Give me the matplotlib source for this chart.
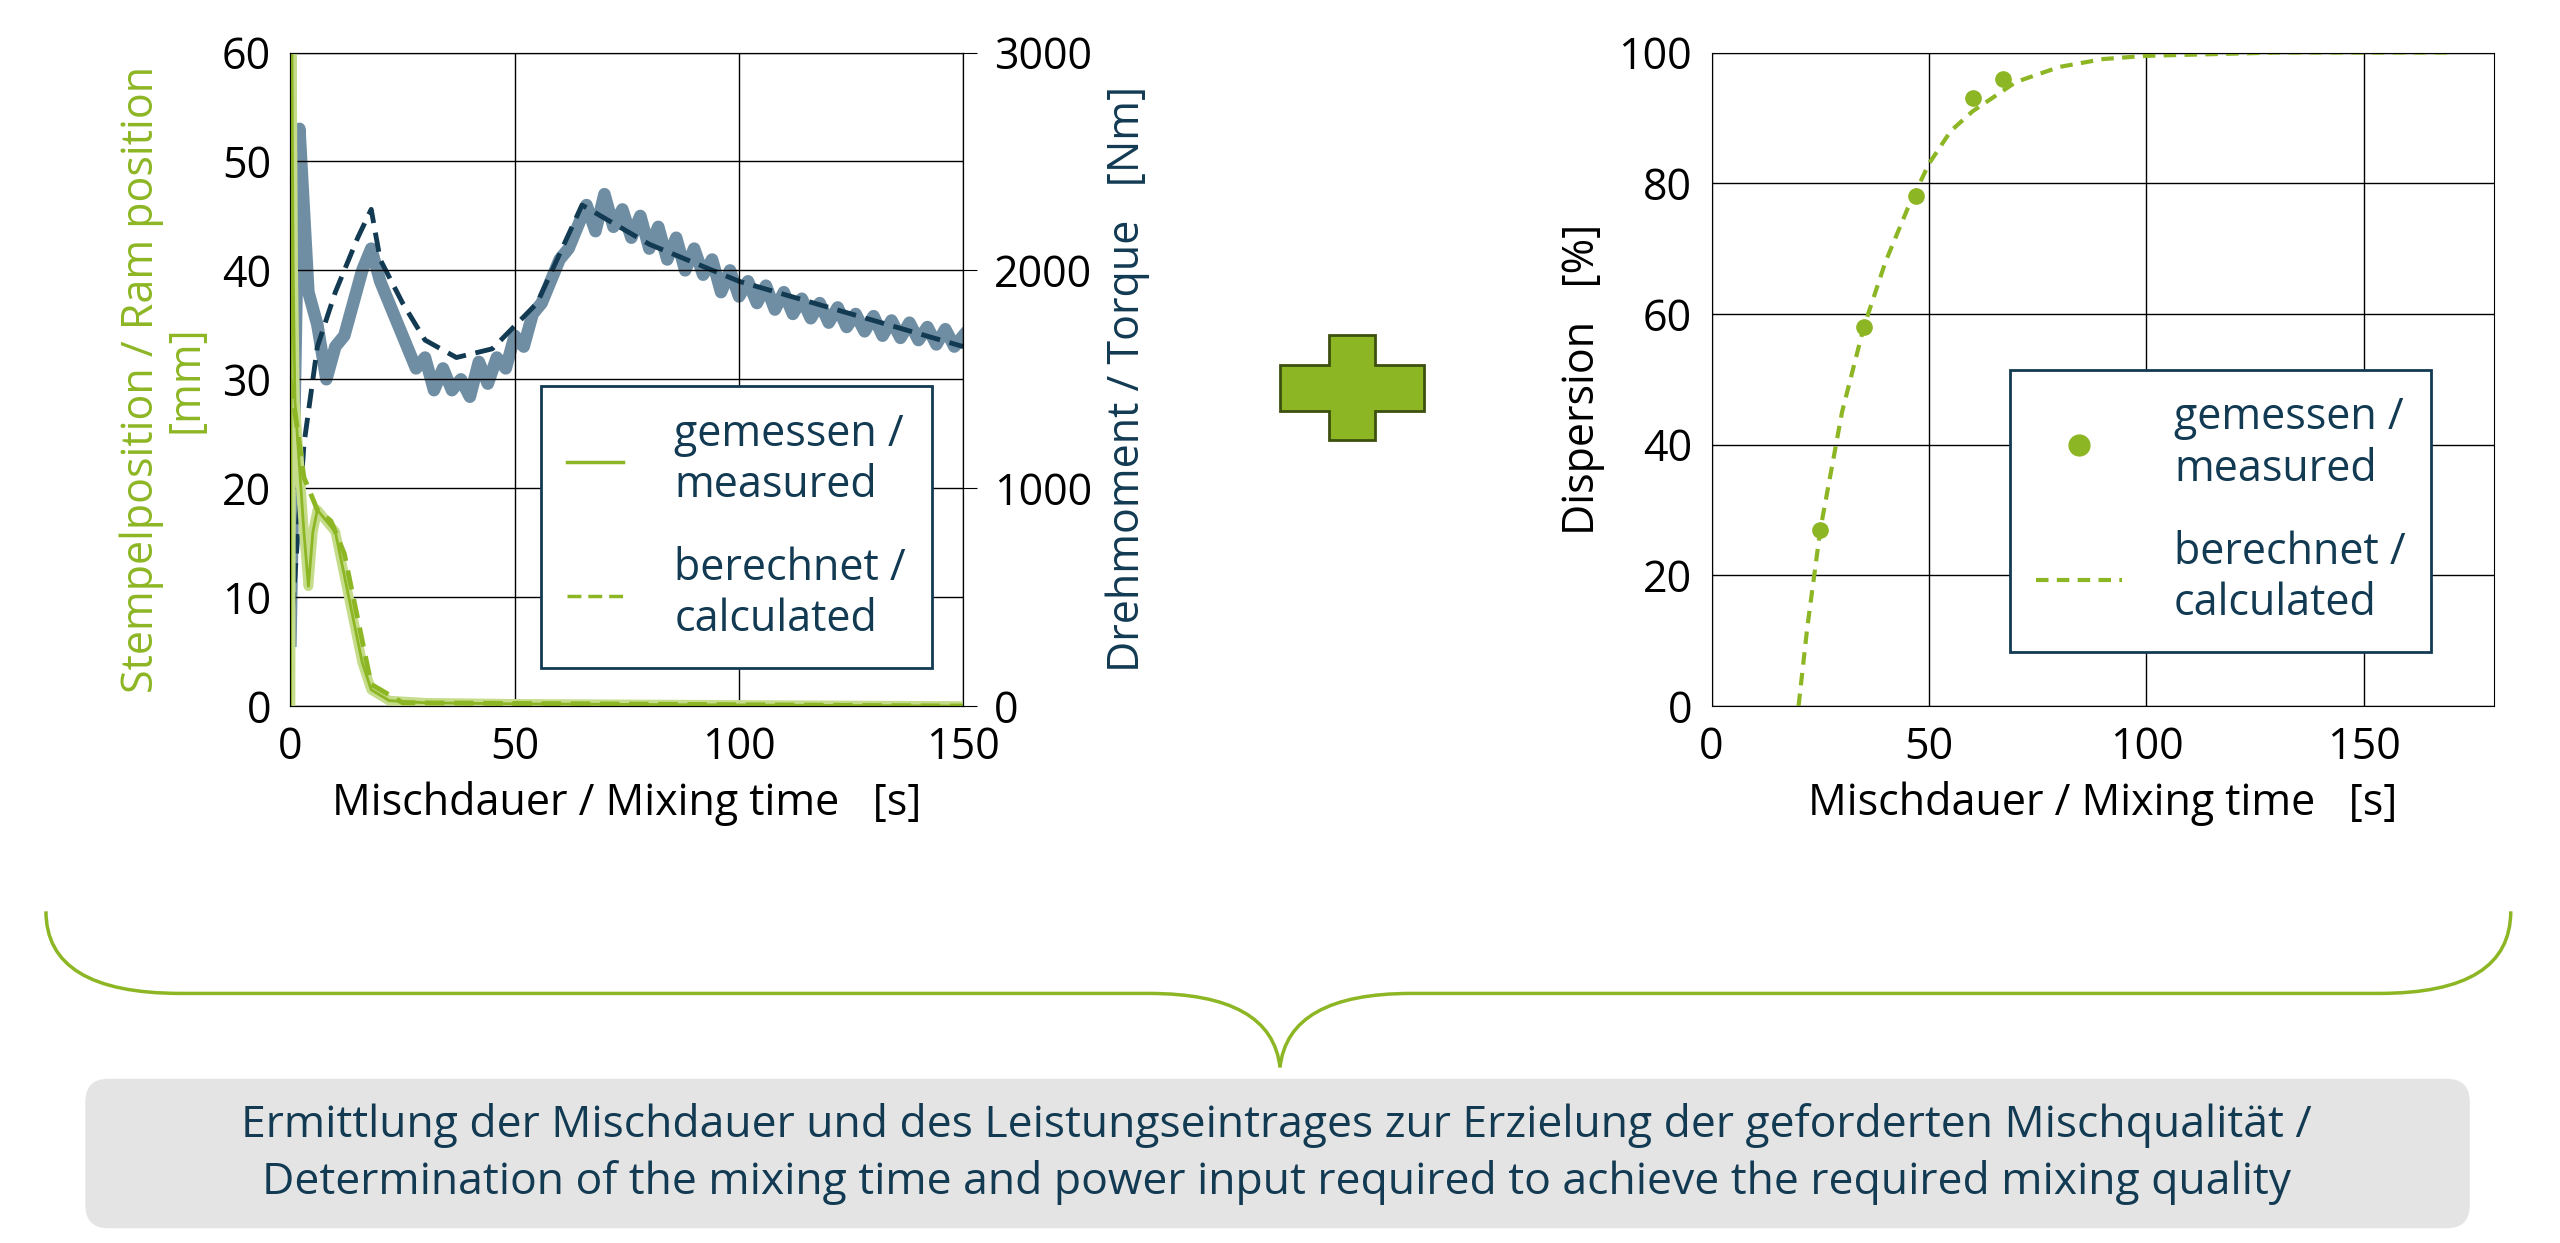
import matplotlib
matplotlib.use("Agg")
import matplotlib.pyplot as plt
from matplotlib.path import Path
from matplotlib.patches import PathPatch, FancyBboxPatch, Polygon
from matplotlib.lines import Line2D

plt.rcParams['font.family'] = ['Open Sans', 'DejaVu Sans']
NAVY = '#123a52'
GREEN = '#8db624'
LGREEN = '#c5dc8a'
BLUEGRAY = '#6f8ea3'

# ---- data ----
torque_t = list(range(0, 151, 2))
torque_meas = [300, 2650, 1900, 1750, 1500, 1650, 1700, 1850, 2000, 2100, 1950, 1850, 1750, 1650, 1550,
               1600, 1450, 1550, 1450, 1500, 1420, 1580, 1480, 1600, 1550, 1700, 1650, 1800, 1850, 1950,
               2050, 2100, 2200, 2300, 2180, 2350, 2200, 2280, 2150, 2250, 2100, 2200, 2050, 2150, 2000,
               2100, 1980, 2050, 1900, 2000, 1880, 1950, 1850, 1930, 1820, 1900, 1800, 1870, 1780, 1850,
               1760, 1830, 1740, 1800, 1720, 1790, 1700, 1770, 1690, 1760, 1680, 1740, 1660, 1730, 1650, 1700]
torque_calc_t = [0, 3, 6, 10, 15, 18, 20, 25, 30, 37, 45, 55, 65, 80, 100, 150]
torque_calc = [300, 1200, 1650, 1900, 2150, 2280, 2050, 1850, 1680, 1600, 1640, 1850, 2300, 2120, 1950, 1650]
ram_t = [0, 0.3, 0.6, 1, 2, 3, 4, 5, 6, 8, 10, 12, 14, 16, 18, 22, 30, 50, 100, 150]
ram_meas = [0, 60, 40, 28, 22, 16, 11, 16, 18, 17, 16, 12, 8, 4, 1.5, 0.5, 0.3, 0.2, 0.1, 0]
ram_calc_t = [0, 3, 6, 9, 12, 15, 18, 25, 150]
ram_calc = [30, 21, 18, 17, 14, 8, 2, 0.3, 0]
disp_t = [25, 35, 47, 60, 67]
disp_meas = [27, 58, 78, 93, 96]
disp_calc_t = [20, 22, 25, 30, 35, 40, 45, 50, 55, 60, 70, 80, 90, 100, 130, 170]
disp_calc = [0, 12, 27, 45, 58, 68, 76, 83, 88, 91, 95.5, 97.8, 99, 99.5, 100, 100]

fig = plt.figure(figsize=(25.6, 12.43), dpi=100)
W, H = 1560, 757
def fr(x0, y0, x1, y1):
    return [x0 / W, 1 - y1 / H, (x1 - x0) / W, (y1 - y0) / H]

FS = 31
# ---- left plot ----
ax = fig.add_axes(fr(177, 32, 587, 430))
ax2 = ax.twinx()
ax.set_zorder(2); ax.patch.set_visible(False); ax2.set_zorder(1)
ax2.plot(torque_t, torque_meas, color=BLUEGRAY, lw=9)
ax2.plot(torque_calc_t, torque_calc, color=NAVY, lw=3.5, ls=(0, (4, 2)))
ax.plot(ram_t, ram_meas, color=LGREEN, lw=7)
ax.plot(ram_t, ram_meas, color=GREEN, lw=2)
ax.plot(ram_calc_t, ram_calc, color=GREEN, lw=3.5, ls=(0, (4, 2)))
ax.set_xlim(0, 150); ax.set_ylim(0, 60)
ax2.set_ylim(0, 3000)
ax.set_xticks([0, 50, 100, 150]); ax.set_yticks(range(0, 61, 10))
ax2.set_yticks([0, 1000, 2000, 3000])
ax.grid(True, color='black', lw=1)
ax.tick_params(labelsize=FS, direction='out', length=0, pad=14)
ax2.tick_params(labelsize=FS, direction='out', length=10, pad=12)
ax.set_xlabel('Mischdauer / Mixing time   [s]', fontsize=FS, labelpad=8)
ax.set_ylabel('Stempelposition / Ram position\n[mm]', fontsize=FS, color=GREEN, linespacing=1.0, labelpad=10)
ax2.set_ylabel('Drehmoment / Torque   [Nm]', fontsize=FS, color=NAVY, labelpad=10)
h = [Line2D([], [], color=GREEN, lw=2.5), Line2D([], [], color=GREEN, lw=2.5, ls=(0, (4, 2)))]
lg = ax.legend(h, ['gemessen /\nmeasured', 'berechnet /\ncalculated'], loc='lower right',
               bbox_to_anchor=(0.985, 0.025), fontsize=FS, labelcolor=NAVY, fancybox=False,
               framealpha=1, edgecolor=NAVY, handlelength=1.3, borderpad=0.6, labelspacing=0.9,
               handletextpad=1.2)
lg.get_frame().set_linewidth(2)

# ---- right plot ----
bx = fig.add_axes(fr(1043, 32, 1520, 430))
bx.plot(disp_calc_t, disp_calc, color=GREEN, lw=3, ls=(0, (3, 2)))
bx.plot(disp_t, disp_meas, 'o', color=GREEN, ms=11)
bx.set_xlim(0, 180); bx.set_ylim(0, 100)
bx.set_xticks([0, 50, 100, 150]); bx.set_yticks(range(0, 101, 20))
bx.grid(True, color='black', lw=1)
bx.tick_params(labelsize=FS, length=0, pad=14)
bx.set_xlabel('Mischdauer / Mixing time   [s]', fontsize=FS, labelpad=8)
bx.set_ylabel('Dispersion   [%]', fontsize=FS, labelpad=10)
h2 = [Line2D([], [], color=GREEN, marker='o', ls='', ms=15),
      Line2D([], [], color=GREEN, lw=3, ls=(0, (3, 2)))]
lg2 = bx.legend(h2, ['gemessen /\nmeasured', 'berechnet /\ncalculated'], loc='lower right',
                bbox_to_anchor=(0.947, 0.05), fontsize=FS, labelcolor=NAVY, fancybox=False,
                framealpha=1, edgecolor=NAVY, handlelength=2.0, borderpad=0.6, labelspacing=0.9,
                handletextpad=1.2)
lg2.get_frame().set_linewidth(2)

# ---- overlay ----
ov = fig.add_axes([0, 0, 1, 1]); ov.set_xlim(0, W); ov.set_ylim(H, 0); ov.axis('off')
ov.set_zorder(0)
cx, cy, a, b = 824, 236, 44, 14
pts = [(cx-b, cy-32), (cx+b, cy-32), (cx+b, cy-b), (cx+a, cy-b), (cx+a, cy+b), (cx+b, cy+b),
       (cx+b, cy+32), (cx-b, cy+32), (cx-b, cy+b), (cx-a, cy+b), (cx-a, cy-b), (cx-b, cy-b)]
ov.add_patch(Polygon(pts, closed=True, fc='#8db624', ec='#3d5010', lw=2))
verts = [(28, 555), (28, 605), (110, 605),
         (700, 605), (775, 605), (780, 650),
         (785, 605), (860, 605), (1450, 605),
         (1530, 605), (1530, 555)]
codes = [Path.MOVETO, Path.CURVE3, Path.CURVE3, Path.LINETO, Path.CURVE3, Path.CURVE3,
         Path.CURVE3, Path.CURVE3, Path.LINETO, Path.CURVE3, Path.CURVE3]
ov.add_patch(PathPatch(Path(verts, codes), fc='none', ec=GREEN, lw=2.5))
ov.add_patch(FancyBboxPatch((52, 657), 1453, 91, boxstyle='round,pad=0,rounding_size=14',
                            fc='#e4e4e4', ec='none'))
ov.text(778, 703, 'Ermittlung der Mischdauer und des Leistungseintrages zur Erzielung der geforderten Mischqualität /\n'
        'Determination of the mixing time and power input required to achieve the required mixing quality',
        ha='center', va='center', fontsize=32, color=NAVY, linespacing=1.35)

fig.savefig('out.png', dpi=100)
